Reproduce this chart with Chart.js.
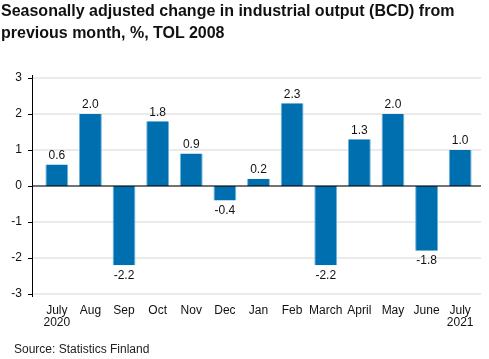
<!DOCTYPE html>
<html>
<head>
<meta charset="utf-8">
<script src="https://cdn.jsdelivr.net/npm/chart.js@4"></script>
<style>
  body { margin: 0; background: #fff; font-family: "Liberation Sans", Arial, sans-serif; }
  .wrap { position: relative; width: 489px; height: 359px; }
  .title { position: absolute; left: 1px; top: 0px; font-weight: bold; font-size: 16px; line-height: 22px; color: #111; }
  .source { position: absolute; left: 14px; top: 342px; font-size: 12px; color: #222; }
  canvas { position: absolute; left: 0; top: 0; }
</style>
</head>
<body>
<div class="wrap">
  <canvas id="myChart" width="489" height="359"></canvas>
  <div class="title">Seasonally adjusted change in industrial output (BCD) from<br>previous month, %, TOL 2008</div>
  <div class="source">Source: Statistics Finland</div>
</div>
<script>
// months shown on the x axis
const months = [["July", "2020"], "Aug", "Sep", "Oct", "Nov", "Dec", "Jan", "Feb", "March", "April", "May", "June", ["July", "2021"]];
// change from previous month, %
const changes = [0.6, 2.0, -2.2, 1.8, 0.9, -0.4, 0.2, 2.3, -2.2, 1.3, 2.0, -1.8, 1.0];
const yTicks = [-3, -2, -1, 0, 1, 2, 3];

// grid, axis line and tick marks start a bit left of the bars
const axisPlugin = {
  id: "axisPlugin",
  beforeDatasetsDraw(chart) {
    const { ctx, chartArea, scales } = chart;
    const axisX = chartArea.left - 8;
    ctx.save();
    ctx.strokeStyle = "#ebebeb";
    ctx.lineWidth = 2;
    yTicks.forEach((t) => {
      if (t === 0) return;
      const y = scales.y.getPixelForValue(t);
      ctx.beginPath();
      ctx.moveTo(axisX, y);
      ctx.lineTo(chartArea.right + 4, y);
      ctx.stroke();
    });
    ctx.restore();
  },
  afterDatasetsDraw(chart) {
    const { ctx, chartArea, scales } = chart;
    const axisX = chartArea.left - 8;
    ctx.save();
    // zero line
    const y0 = scales.y.getPixelForValue(0);
    ctx.strokeStyle = "rgba(0,0,0,0.55)";
    ctx.lineWidth = 2;
    ctx.beginPath();
    ctx.moveTo(axisX, y0);
    ctx.lineTo(chartArea.right + 4, y0);
    ctx.stroke();
    // y axis line and ticks
    ctx.strokeStyle = "#000";
    ctx.lineWidth = 1;
    ctx.beginPath();
    ctx.moveTo(axisX + 0.5, chartArea.top - 3);
    ctx.lineTo(axisX + 0.5, chartArea.bottom + 3);
    yTicks.forEach((t) => {
      const y = Math.round(scales.y.getPixelForValue(t)) + 0.5;
      ctx.moveTo(axisX - 4, y);
      ctx.lineTo(axisX + 0.5, y);
    });
    ctx.stroke();
    // value labels
    ctx.fillStyle = "#111";
    ctx.font = "12px 'Liberation Sans', Arial, sans-serif";
    ctx.textAlign = "center";
    const meta = chart.getDatasetMeta(0);
    meta.data.forEach((bar, i) => {
      const v = changes[i];
      const { x, y } = bar.getProps(["x", "y"], true);
      if (v >= 0) {
        ctx.textBaseline = "bottom";
        ctx.fillText(v.toFixed(1), x, y - 3);
      } else {
        ctx.textBaseline = "top";
        ctx.fillText(v.toFixed(1), x, y + 4);
      }
    });
    ctx.restore();
  },
};

new Chart(document.getElementById("myChart"), {
  type: "bar",
  data: {
    labels: months,
    datasets: [{
      data: changes,
      backgroundColor: "#006fb0",
      borderColor: "#6fb3de",
      borderWidth: { left: 1, right: 1, top: 0, bottom: 0 },
      borderSkipped: false,
      categoryPercentage: 1,
      barPercentage: 0.68,
    }],
  },
  options: {
    responsive: false,
    animation: false,
    devicePixelRatio: 1,
    layout: { padding: { top: 78, right: 12, left: 0, bottom: 0 } },
    plugins: { legend: { display: false }, tooltip: { enabled: false } },
    scales: {
      x: {
        grid: { display: false, drawTicks: false },
        border: { display: false },
        ticks: { color: "#111", font: { size: 12, family: "'Liberation Sans', Arial, sans-serif", lineHeight: 1.0 }, padding: 11, maxRotation: 0, autoSkip: false },
        afterFit(scale) { scale.height = 65; },
      },
      y: {
        min: -3,
        max: 3,
        grid: { display: false, drawTicks: false },
        border: { display: false },
        ticks: { stepSize: 1, color: "#111", font: { size: 12, family: "'Liberation Sans', Arial, sans-serif" }, padding: 18 },
        afterFit(scale) { scale.width = 40; },
      },
    },
  },
  plugins: [axisPlugin],
});
</script>
</body>
</html>
